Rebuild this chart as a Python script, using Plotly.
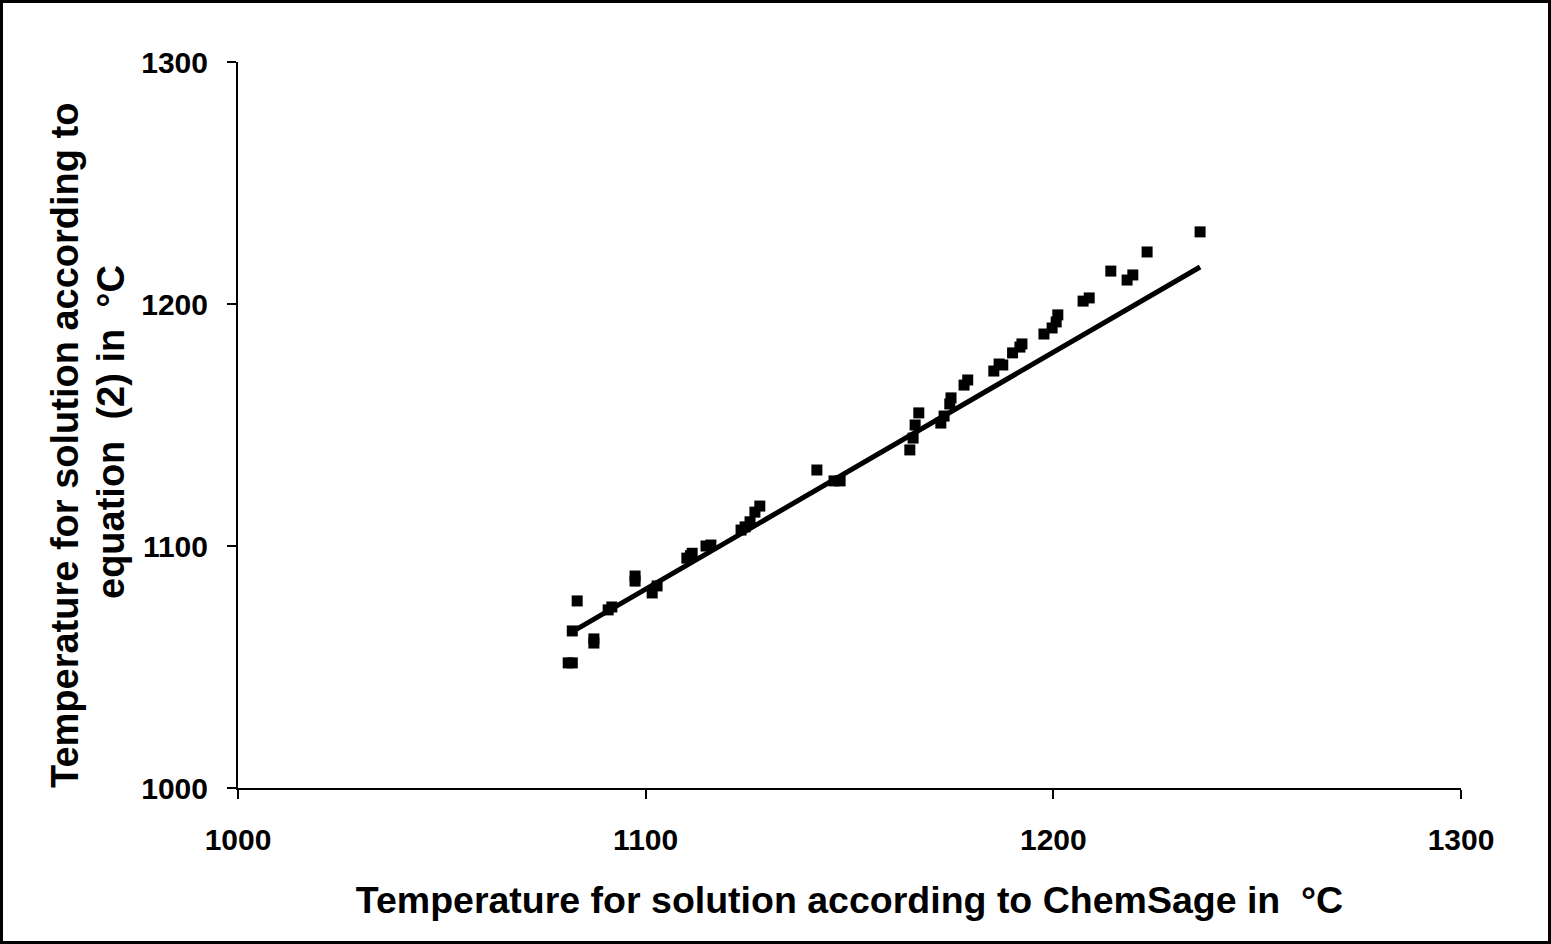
import plotly.graph_objects as go

# Data
chemsage_T = [1081, 1082, 1082, 1083.2, 1087.3, 1087.3, 1090.8, 1091.7, 1097.4, 1097.4,
              1101.6, 1102.8, 1110.1, 1111.0, 1111.4, 1114.8, 1116.0, 1123.4, 1124.4, 1125.6,
              1126.8, 1128.0, 1142.0, 1146.2, 1147.7, 1164.8, 1165.6, 1166.1, 1167.0, 1172.4,
              1173.2, 1174.6, 1174.9, 1178.1, 1179.0, 1185.4, 1186.7, 1187.6, 1190.0, 1191.8,
              1192.3, 1197.7, 1199.7, 1200.7, 1201.1, 1207.3, 1208.8, 1214.1, 1218.1, 1219.5,
              1223.0, 1236.0]
equation_T = [1051.7, 1051.7, 1064.9, 1077.3, 1061.6, 1059.9, 1073.6, 1074.8, 1087.6, 1085.5,
              1080.6, 1083.5, 1095.0, 1096.0, 1097.0, 1100.0, 1100.4, 1106.6, 1107.9, 1110.0,
              1114.0, 1116.5, 1131.4, 1126.9, 1126.9, 1139.7, 1144.6, 1150.0, 1155.0, 1150.8,
              1153.7, 1158.7, 1161.2, 1166.5, 1168.6, 1172.3, 1175.2, 1174.8, 1179.8, 1182.2,
              1183.5, 1187.6, 1190.1, 1192.6, 1195.5, 1201.2, 1202.5, 1213.6, 1209.9, 1212.0,
              1221.5, 1229.8]
trend_x = [1081, 1236]
trend_y = [1063.6, 1215.3]
tick_vals = [1000, 1100, 1200, 1300]
x_title = "Temperature for solution according to ChemSage in  °C"
y_title_lines = ["Temperature for solution according to", "equation  (2) in  °C"]

fig = go.Figure()
fig.add_trace(go.Scatter(x=trend_x, y=trend_y, mode="lines",
                         line=dict(color="black", width=5), showlegend=False))
fig.add_trace(go.Scatter(x=chemsage_T, y=equation_T, mode="markers",
                         marker=dict(symbol="square", size=11, color="black"),
                         showlegend=False))

font_family = "Liberation Sans, Arial, sans-serif"
axis_common = dict(range=[1000, 1300], tickvals=tick_vals, showgrid=False, zeroline=False,
                   showline=True, linecolor="black", linewidth=2, ticks="outside",
                   ticklen=9, tickwidth=2, tickcolor="black",
                   tickfont=dict(family=font_family, size=30, color="black", weight="bold"))

PW, PH = 1223, 726
L = 238

def px_x(p):
    return (p - L) / PW

def px_y(p):
    return (788 - p) / PH

fig.update_layout(
    width=1551, height=944,
    margin=dict(l=238, r=90, t=62, b=156),
    paper_bgcolor="white", plot_bgcolor="white",
    xaxis=dict(**axis_common, ticklabelstandoff=15,
               title=dict(text="<b>" + x_title + "</b>",
                          font=dict(family=font_family, size=37.5, color="black"), standoff=32)),
    yaxis=dict(**axis_common, ticklabelstandoff=13),
    annotations=[
        dict(text="<b>" + y_title_lines[0] + "</b>", xref="paper", yref="paper",
             x=px_x(65), y=px_y(446), xanchor="center", yanchor="middle", textangle=-90,
             showarrow=False, font=dict(family=font_family, size=38, color="black")),
        dict(text="<b>" + y_title_lines[1] + "</b>", xref="paper", yref="paper",
             x=px_x(111), y=px_y(432), xanchor="center", yanchor="middle", textangle=-90,
             showarrow=False, font=dict(family=font_family, size=38, color="black")),
    ],
    shapes=[dict(type="rect", xref="paper", yref="paper",
                 x0=px_x(1.5), x1=px_x(1549.5),
                 y0=px_y(942.5), y1=px_y(1.5),
                 line=dict(color="black", width=3), fillcolor="rgba(0,0,0,0)", layer="above")],
)

fig.write_html("out.html")
